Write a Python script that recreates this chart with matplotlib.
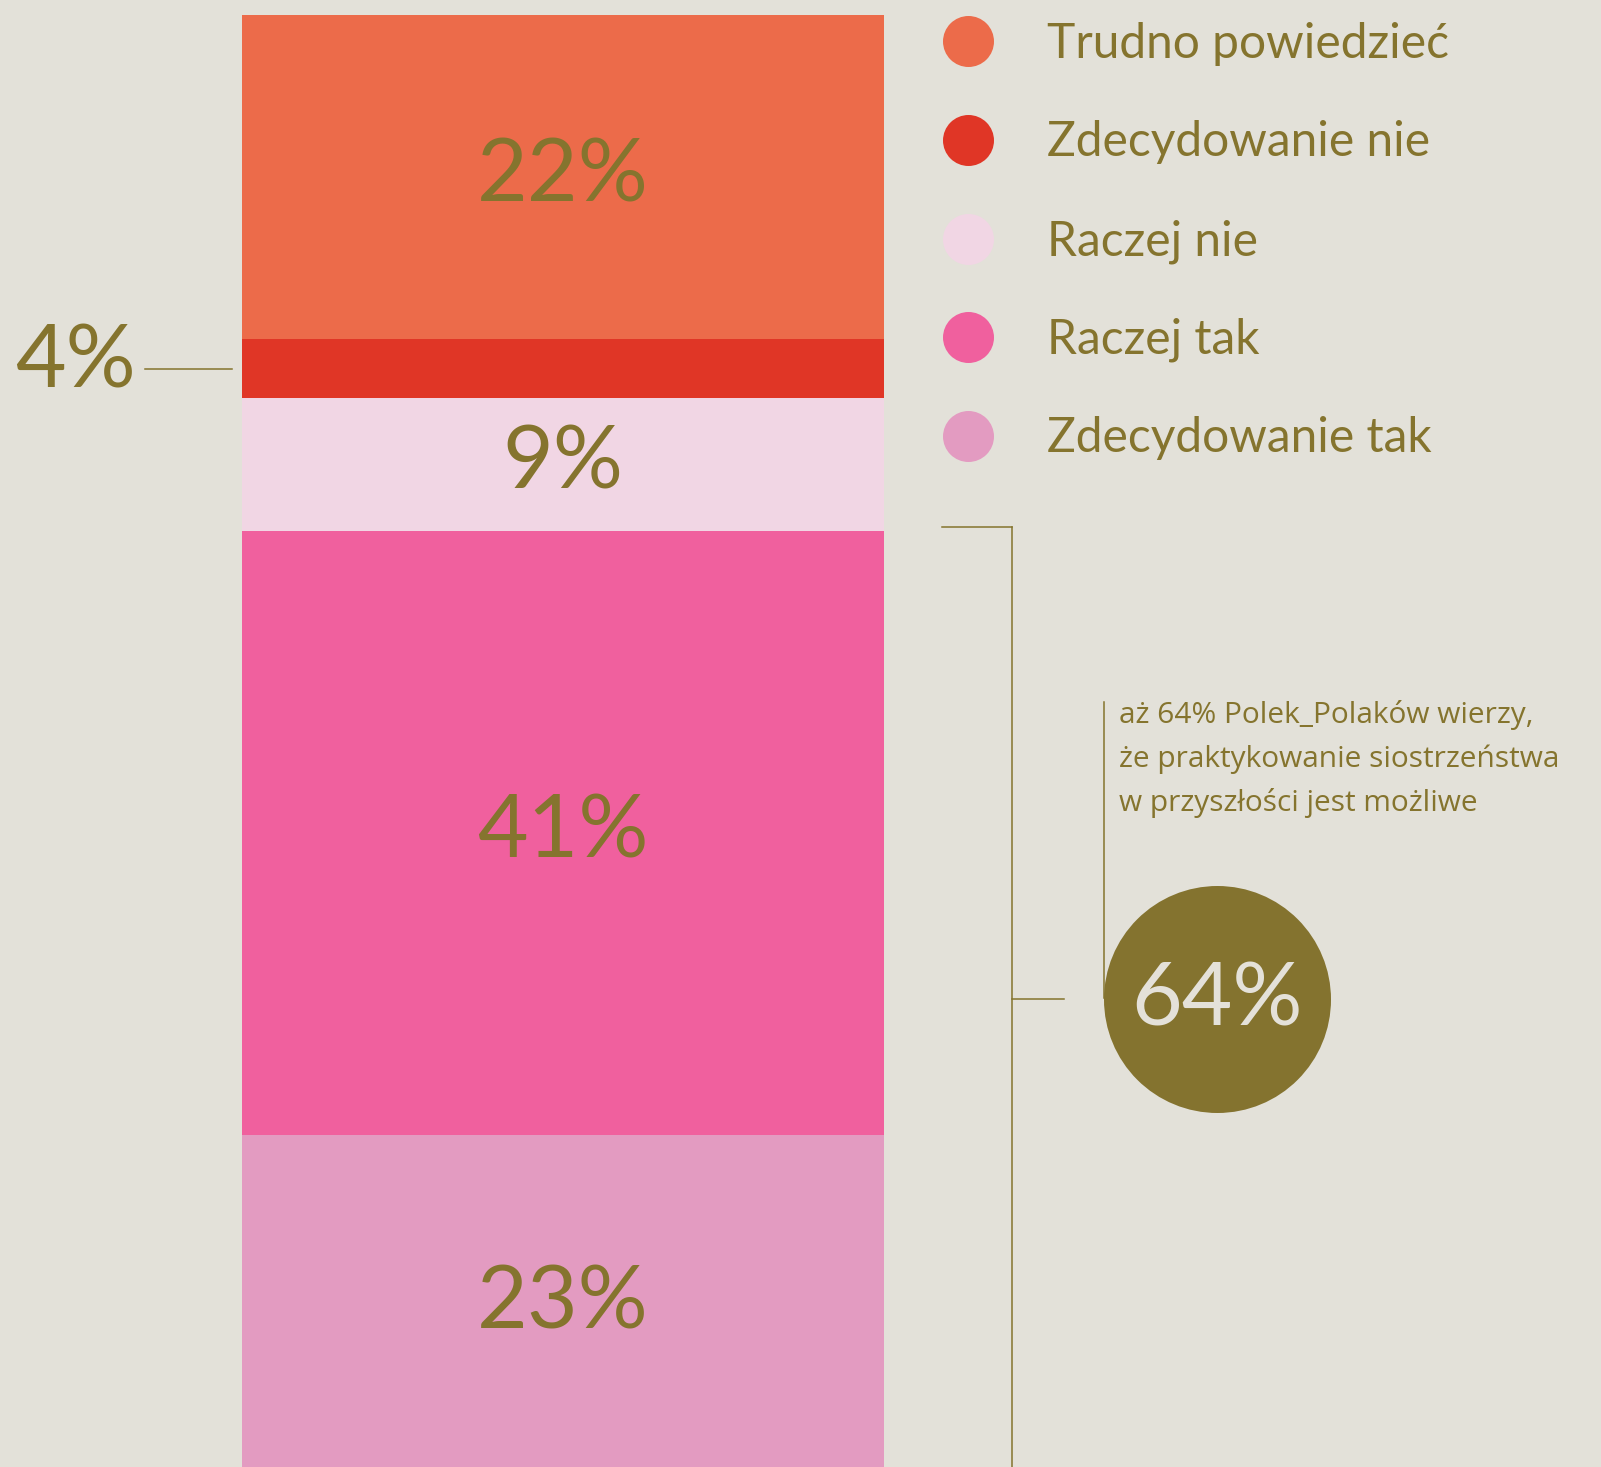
import matplotlib
matplotlib.use("Agg")
import matplotlib.pyplot as plt

# ---- data ----
categories = ["Zdecydowanie tak", "Raczej tak", "Raczej nie", "Zdecydowanie nie", "Trudno powiedzieć"]
values = [23, 41, 9, 4, 22]
colors = ["#E39BC1", "#F0609E", "#F1D6E4", "#E03626", "#EC6B4A"]
legend_order = ["Trudno powiedzieć", "Zdecydowanie nie", "Raczej nie", "Raczej tak", "Zdecydowanie tak"]
total_yes = 64
note_lines = ["aż 64% Polek_Polaków wierzy,",
              "że praktykowanie siostrzeństwa",
              "w przyszłości jest możliwe"]

BG = "#E3E1D9"
OLIVE = "#85742E"
FONT = "Lato"

W, H = 1601, 1467
fig = plt.figure(figsize=(W / 100, H / 100), dpi=100, facecolor=BG)

# bar axes: x in pixels, y in percent
ax = fig.add_axes([0, 0, 1, 1])
ax.set_facecolor(BG)
ax.set_xlim(0, W)
PX_PER_PCT = 14.74
ax.set_ylim(7 / PX_PER_PCT, 1474 / PX_PER_PCT)
ax.axis("off")

bar_x, bar_w = 563, 642
bottom = 0
centers = {}
for cat, v, c in zip(categories, values, colors):
    ax.bar([bar_x], [v], bottom=bottom, width=bar_w, color=c, linewidth=0, zorder=2)
    centers[cat] = bottom + v / 2
    if v >= 5:
        ax.text(bar_x, bottom + v / 2, f"{v}%", ha="center", va="center",
                fontsize=63, color=OLIVE, family=FONT, zorder=3)
    bottom += v

# small segment label outside
small = "Zdecydowanie nie"
ax.text(136, centers[small] + 0.35, f"{values[categories.index(small)]}%", ha="right", va="center",
        fontsize=63, color=OLIVE, family=FONT)
ax.plot([145, 232], [centers[small], centers[small]], color=OLIVE, lw=1.1)

# overlay axes in pixel coordinates
ov = fig.add_axes([0, 0, 1, 1])
ov.set_xlim(0, W)
ov.set_ylim(H, 0)
ov.axis("off")
ov.patch.set_alpha(0)

# legend
leg_y = [41, 139.5, 238.5, 337, 435.5]
for name, y in zip(legend_order, leg_y):
    c = colors[categories.index(name)]
    ov.scatter([968], [y], s=(51 * 0.72) ** 2, color=c, linewidths=0, zorder=3)
    ov.text(1047, y + 17, name, ha="left", va="baseline", fontsize=34.5, color=OLIVE, family=FONT)

# bracket
ov.plot([942, 1012], [527, 527], color=OLIVE, lw=1.1)
ov.plot([1012, 1012], [527, H + 5], color=OLIVE, lw=1.1)
ov.plot([1012, 1064], [998.5, 998.5], color=OLIVE, lw=1.1)

# annotation line and text
ov.plot([1104, 1104], [702, 998], color=OLIVE, lw=1.1, zorder=2)
for i, line in enumerate(note_lines):
    ov.text(1119, 723 + 44 * i, line, ha="left", va="baseline", fontsize=21.5,
            color=OLIVE, family="Open Sans")

# big circle
ov.scatter([1216.5], [998.5], s=(227 * 0.72) ** 2, color="#84732F", linewidths=0, zorder=3)
ov.text(1217, 1001, f"{total_yes}%", ha="center", va="center", fontsize=63,
        color="#E4E1D9", family=FONT, zorder=4)

fig.savefig("out.png", dpi=100, facecolor=BG)
